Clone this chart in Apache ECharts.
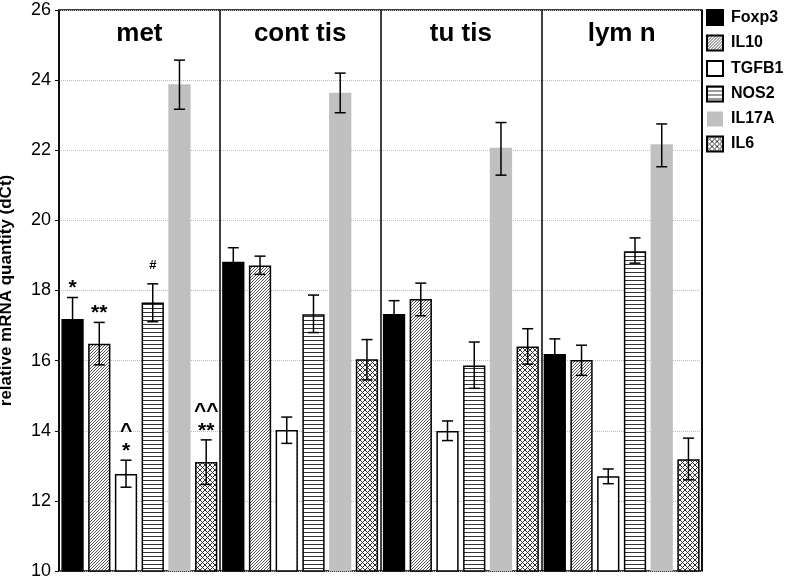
<!DOCTYPE html>
<html>
<head>
<meta charset="utf-8">
<style>html,body{margin:0;padding:0;background:#fff}#chart{width:788px;height:580px}</style>
<script src="https://cdn.jsdelivr.net/npm/echarts@6/dist/echarts.min.js"></script>
</head>
<body>
<div id="chart"></div>
<script>
const categories = ['met', 'cont tis', 'tu tis', 'lym n'];
const genes = ['Foxp3', 'IL10', 'TGFB1', 'NOS2', 'IL17A', 'IL6'];
const yTicks = [10, 12, 14, 16, 18, 20, 22, 24, 26];

const foxp3 = [17.19, 18.82, 17.33, 16.19];
const il10  = [16.48, 18.71, 17.76, 16.02];
const tgfb1 = [12.77, 14.02, 13.99, 12.70];
const nos2  = [17.66, 17.32, 15.86, 19.12];
const il17a = [23.88, 23.64, 22.07, 22.17];
const il6   = [13.11, 16.04, 16.40, 13.19];

const foxp3Err = [[16.58, 17.80], [18.42, 19.22], [16.95, 17.71], [15.76, 16.62]];
const il10Err  = [[15.88, 17.09], [18.46, 18.98], [17.28, 18.21], [15.58, 16.44]];
const tgfb1Err = [[12.39, 13.16], [13.64, 14.39], [13.72, 14.28], [12.49, 12.91]];
const nos2Err  = [[17.11, 18.19], [16.80, 17.87], [15.21, 16.53], [18.78, 19.50]];
const il17aErr = [[23.17, 24.57], [23.07, 24.20], [21.29, 22.79], [21.53, 22.75]];
const il6Err   = [[12.47, 13.74], [15.45, 16.60], [15.90, 16.91], [12.60, 13.79]];

// significance marks (group index, gene index, text)
const marks = [
  [0, 0, '*'],
  [0, 1, '**'],
  [0, 2, '^\n*'],
  [0, 3, '#'],
  [0, 5, '^^\n**']
];

const values = [foxp3, il10, tgfb1, nos2, il17a, il6];
const errs = [foxp3Err, il10Err, tgfb1Err, nos2Err, il17aErr, il6Err];

function pattern(size, color, pixels) {
  const c = document.createElement('canvas');
  c.width = size; c.height = size;
  const ctx = c.getContext('2d');
  ctx.fillStyle = '#fff';
  ctx.fillRect(0, 0, size, size);
  ctx.fillStyle = color;
  pixels.forEach(p => ctx.fillRect(p[0], p[1], 1, 1));
  return { image: c, repeat: 'repeat' };
}
const diag = pattern(3, '#555', [[0, 2], [1, 1], [2, 0]]);
const horiz = pattern(4, '#333', [[0, 0], [1, 0], [2, 0], [3, 0]]);
const cross = pattern(5, '#333', [[0,0],[1,1],[2,2],[3,3],[4,4],[0,4],[1,3],[3,1],[4,0]]);

const styles = [
  { color: '#000', borderColor: '#000', borderWidth: 1.5 },
  { color: diag, borderColor: '#000', borderWidth: 1.5 },
  { color: '#fff', borderColor: '#000', borderWidth: 1.5 },
  { color: horiz, borderColor: '#000', borderWidth: 1.5 },
  { color: '#c0c0c0', borderWidth: 0 },
  { color: cross, borderColor: '#000', borderWidth: 1.5 }
];

const CAT_GAP = 0.03, BAR_GAP = 0.2, N = genes.length;
function barCenter(api, g, s) {
  const band = api.size([1, 0])[0];
  const rem = band * (1 - CAT_GAP);
  const bw = rem / (N + (N - 1) * BAR_GAP);
  const step = bw * (1 + BAR_GAP);
  return api.coord([g, 0])[0] - rem / 2 + bw / 2 + s * step;
}

const FONT = "'Liberation Sans', Arial, sans-serif";

const series = genes.map((name, i) => ({
  name: name,
  type: 'bar',
  data: values[i],
  barGap: '20%',
  barCategoryGap: '3%',
  itemStyle: styles[i],
  emphasis: { disabled: true },
  z: 2
}));

const errData = [];
errs.forEach((arr, s) => arr.forEach((e, g) => errData.push([g, e[0], e[1], s])));
series.push({
  type: 'custom',
  name: 'errors',
  data: errData,
  encode: { x: 0, y: [1, 2] },
  z: 5,
  silent: true,
  renderItem: function (params, api) {
    const g = api.value(0), s = api.value(3);
    const cx = barCenter(api, g, s);
    const yl = api.coord([g, api.value(1)])[1];
    const yh = api.coord([g, api.value(2)])[1];
    const st = { stroke: '#000', lineWidth: 1.5 };
    return {
      type: 'group',
      children: [
        { type: 'line', shape: { x1: cx, y1: yl, x2: cx, y2: yh }, style: st },
        { type: 'line', shape: { x1: cx - 5.5, y1: yh, x2: cx + 5.5, y2: yh }, style: st },
        { type: 'line', shape: { x1: cx - 5.5, y1: yl, x2: cx + 5.5, y2: yl }, style: st }
      ]
    };
  }
});

const markData = marks.map(m => [m[0], errs[m[1]][m[0]][1], m[1]]);
series.push({
  type: 'custom',
  name: 'marks',
  data: markData,
  encode: { x: 0, y: 1 },
  z: 6,
  silent: true,
  renderItem: function (params, api) {
    const m = marks[params.dataIndex];
    const g = api.value(0), s = api.value(2);
    const cx = barCenter(api, g, s);
    const yh = api.coord([g, api.value(1)])[1];
    const small = m[2] === '#';
    return {
      type: 'text',
      x: cx,
      y: yh + (small ? -8 : 1),
      style: {
        text: m[2],
        textAlign: 'center',
        textVerticalAlign: 'bottom',
        font: (small ? 'bold 13px ' : 'bold 21px ') + FONT,
        lineHeight: 20,
        fill: '#000'
      }
    };
  }
});

const chart = echarts.init(document.getElementById('chart'));
chart.setOption({
  animation: false,
  backgroundColor: '#fff',
  grid: {
    left: 59, right: 86, top: 10, bottom: 9,
    outerBoundsMode: 'none',
    containLabel: false,
    show: true, borderColor: '#000', borderWidth: 1.5, backgroundColor: 'transparent'
  },
  legend: {
    data: genes,
    orient: 'vertical',
    left: 706,
    top: 9,
    padding: 0,
    itemWidth: 16,
    itemHeight: 15,
    itemGap: 8.5,
    icon: 'rect',
    selectedMode: false,
    textStyle: { fontFamily: FONT, fontWeight: 'bold', fontSize: 16, color: '#000', padding: [0, 0, 0, 3] }
  },
  xAxis: {
    type: 'category',
    data: categories,
    position: 'top',
    axisLine: { show: false },
    axisTick: { show: false },
    splitLine: { show: true, lineStyle: { color: '#000', width: 1.5 } },
    axisLabel: {
      inside: true,
      margin: 11,
      fontFamily: FONT,
      fontWeight: 'bold',
      fontSize: 26,
      color: '#000'
    }
  },
  yAxis: {
    type: 'value',
    min: yTicks[0],
    max: yTicks[yTicks.length - 1],
    interval: 2,
    name: 'relative mRNA quantity (dCt)',
    nameLocation: 'middle',
    nameGap: 44,
    nameTextStyle: { fontFamily: FONT, fontWeight: 'bold', fontSize: 17, color: '#000' },
    axisLine: { show: false },
    axisTick: { show: true, length: 4, lineStyle: { color: '#000' } },
    axisLabel: { fontFamily: FONT, fontSize: 18, color: '#000', margin: 8 },
    splitLine: { show: true, lineStyle: { color: '#bbb', type: 'dotted', width: 1 } }
  },
  series: series
});
</script>
</body>
</html>
